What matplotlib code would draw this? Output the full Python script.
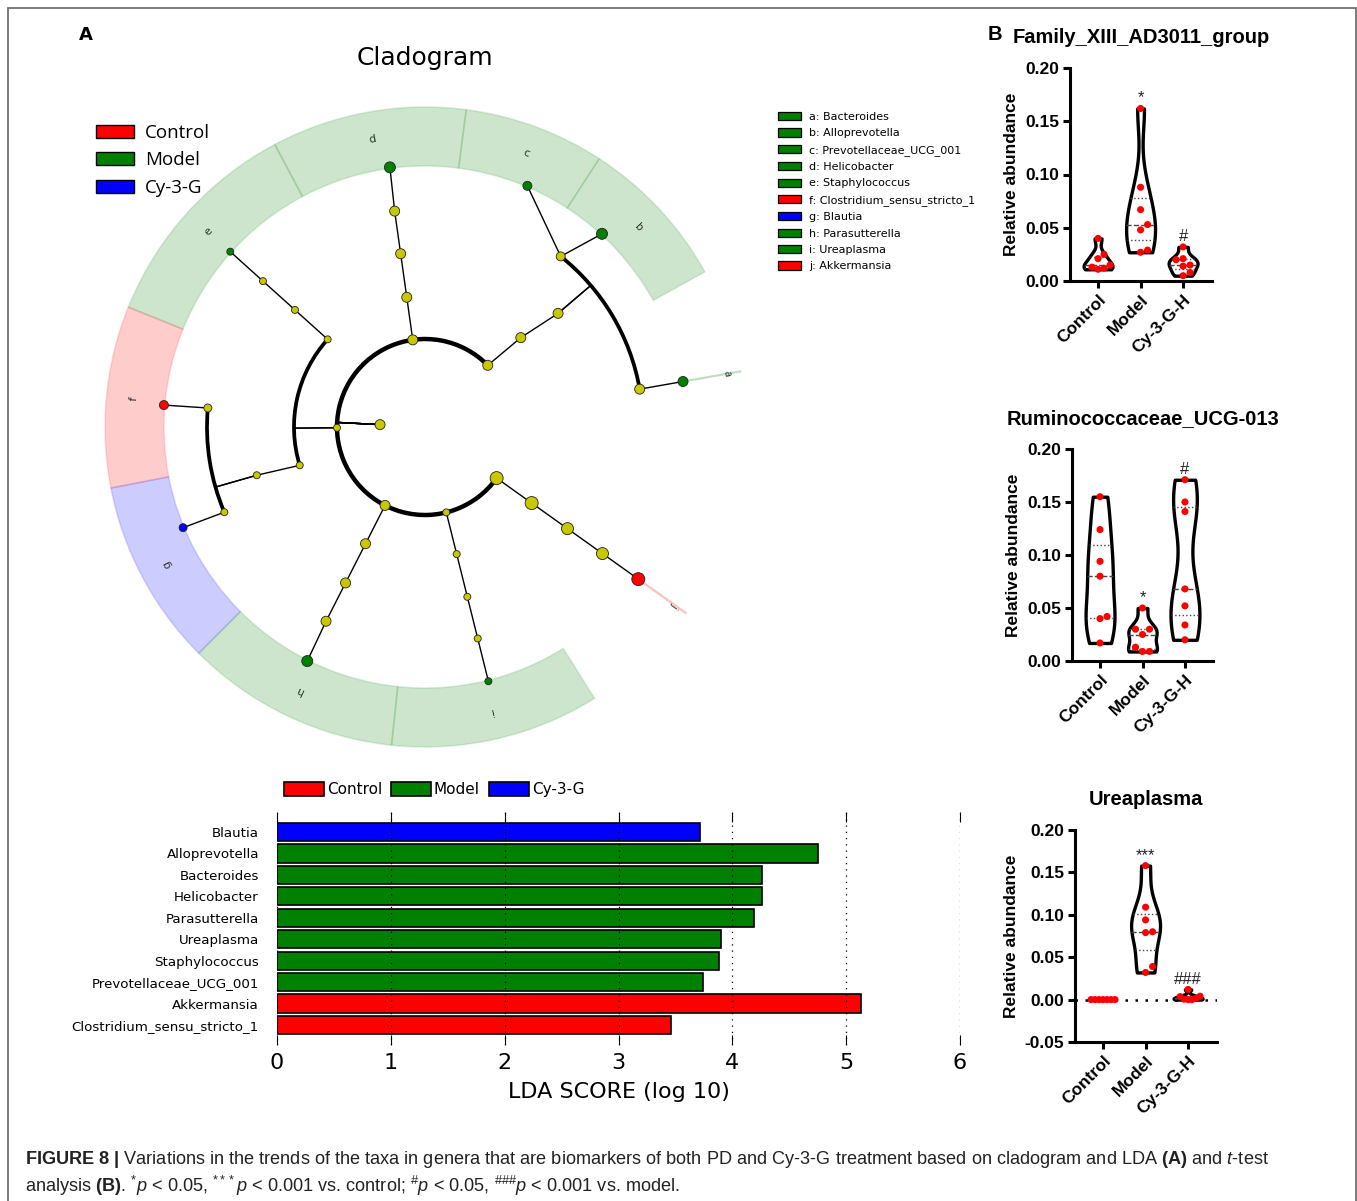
import numpy as np
import matplotlib
matplotlib.use("Agg")
import matplotlib.pyplot as plt
from matplotlib.patches import Arc, Wedge, Patch, Rectangle
from matplotlib.ticker import FormatStrFormatter

plt.rcParams['font.family'] = ['DejaVu Sans']
plt.rcParams['mathtext.fontset'] = 'custom'
plt.rcParams['mathtext.rm'] = 'Liberation Sans'
plt.rcParams['mathtext.it'] = 'Liberation Sans:italic'
plt.rcParams['mathtext.bf'] = 'Liberation Sans:bold'

W, H = 1357, 1201

# ---------------- data ----------------
# cladogram: ring radii per level, nodes (angle in degrees, level, marker radius, colour), parent links
levels = [45, 88, 131, 175, 218, 262]
node_ang = [177, 44.5, 98, 180.5, 243, 284, 324.5,
            43, 40.5, 51.5, 10, 67, 47.5, 10,
            98, 98, 98, 97.7,
            138, 138, 138, 138,
            197, 196, 175, 203, 175.2, 202.6,
            243, 243, 243, 243.3,
            284, 284, 284, 284,
            324.5, 324.5, 324.5, 324.5]
node_lvl = [0, 1, 1, 1, 1, 1, 1,
            2, 3, 4, 4, 5, 5, 5,
            2, 3, 4, 5,
            2, 3, 4, 5,
            2, 3, 4, 4, 5, 5,
            2, 3, 4, 5,
            2, 3, 4, 5,
            2, 3, 4, 5]
node_size = [5, 5, 5, 3.5, 5, 3.5, 6.5,
             5, 5, 4.5, 5, 4.5, 5.5, 5,
             5, 5, 5, 5.5,
             3.5, 3.5, 3.5, 3.5,
             3.5, 3.5, 4, 3.5, 4.5, 4,
             5, 5, 5, 5.5,
             3.5, 3.5, 3.5, 3.5,
             6.5, 6, 6, 6.5]
node_col = ['y'] * 11 + ['g', 'g', 'g'] + ['y'] * 3 + ['g'] + ['y'] * 3 + ['g'] \
    + ['y'] * 4 + ['r', 'b'] + ['y'] * 3 + ['g'] + ['y'] * 3 + ['g'] + ['y'] * 3 + ['r']
node_parent = [-1, 0, 0, 0, 0, 0, 0,
               1, 7, 8, 8, 9, 9, 10,
               2, 14, 15, 16,
               3, 18, 19, 20,
               3, 22, 23, 23, 24, 25,
               4, 28, 29, 30,
               5, 32, 33, 34,
               6, 36, 37, 38]
arc_parents = [0, 3, 8, 23]

# clade shading: letter, start angle, end angle, group
band_letter = ['b', 'c', 'd', 'e', 'f', 'g', 'h', 'i']
band_start = [29, 57, 82.6, 118, 158, 191, 225, 264]
band_end = [57, 82.6, 118, 158, 191, 225, 264, 302]
band_group = ['Model', 'Model', 'Model', 'Model', 'Control', 'Cy-3-G', 'Model', 'Model']
line_letter = ['a', 'j']
line_ang = [10, 324.5]
line_group = ['Model', 'Control']

clade_names = ['a: Bacteroides', 'b: Alloprevotella', 'c: Prevotellaceae_UCG_001', 'd: Helicobacter',
               'e: Staphylococcus', 'f: Clostridium_sensu_stricto_1', 'g: Blautia',
               'h: Parasutterella', 'i: Ureaplasma', 'j: Akkermansia']
clade_groups = ['Model', 'Model', 'Model', 'Model', 'Model', 'Control', 'Cy-3-G', 'Model', 'Model', 'Control']

groups = ['Control', 'Model', 'Cy-3-G']
group_col = {'Control': '#ff0000', 'Model': '#008000', 'Cy-3-G': '#0000ff'}
node_colors = {'y': '#c8c800', 'g': '#008000', 'r': '#ff0000', 'b': '#0000ff'}

# LDA
taxa = ['Blautia', 'Alloprevotella', 'Bacteroides', 'Helicobacter', 'Parasutterella', 'Ureaplasma',
        'Staphylococcus', 'Prevotellaceae_UCG_001', 'Akkermansia', 'Clostridium_sensu_stricto_1']
lda = [3.72, 4.75, 4.26, 4.26, 4.19, 3.90, 3.88, 3.74, 5.13, 3.46]
lda_group = ['Cy-3-G', 'Model', 'Model', 'Model', 'Model', 'Model', 'Model', 'Model', 'Control', 'Control']

# violin panels
vgroups = ['Control', 'Model', 'Cy-3-G-H']
fam_vals = [[0.040, 0.025, 0.021, 0.015, 0.013, 0.012, 0.011],
            [0.162, 0.088, 0.067, 0.053, 0.048, 0.029, 0.027],
            [0.032, 0.021, 0.020, 0.015, 0.014, 0.008, 0.005]]
rum_vals = [[0.155, 0.124, 0.094, 0.080, 0.042, 0.040, 0.017],
            [0.050, 0.030, 0.030, 0.025, 0.013, 0.009, 0.009],
            [0.171, 0.150, 0.141, 0.068, 0.052, 0.034, 0.020]]
ure_vals = [[0.0, 0.0, 0.0, 0.0, 0.0, 0.0, 0.0],
            [0.158, 0.109, 0.094, 0.080, 0.079, 0.039, 0.032],
            [0.012, 0.004, 0.0035, 0.0015, 0.0005, 0.0, 0.0]]
fam_marks = ['', '*', '#']
rum_marks = ['', '*', '#']
ure_marks = ['', '***', '###']


def px_axes(fig, left, top, right, bottom):
    return fig.add_axes([left / W, 1 - bottom / H, (right - left) / W, (bottom - top) / H])


def polar(ang, r):
    a = np.deg2rad(ang)
    return r * np.cos(a), r * np.sin(a)


fig = plt.figure(figsize=(W / 100, H / 100), dpi=100)

# outer frame
fig.add_artist(Rectangle((8 / W, -0.01), 1348 / W, 1 - 8 / H + 0.01, transform=fig.transFigure,
                         fill=False, edgecolor='#666666', lw=1.2))

fig.text(86 / W, 1 - 35 / H, 'A', fontsize=13, fontweight='bold', ha='center', va='center')

# ---------------- cladogram ----------------
cx, cy = 425, 427
ax = px_axes(fig, 60, 80, 800, 780)
ax.set_xlim(60 - cx, 800 - cx)
ax.set_ylim(cy - 780, cy - 80)
ax.set_aspect('equal')
ax.axis('off')
fig.text(425 / W, 1 - 58 / H, 'Cladogram', fontsize=18, ha='center', va='center')

for let, a1, a2, g in zip(band_letter, band_start, band_end, band_group):
    c = group_col[g]
    ax.add_patch(Wedge((0, 0), 320, a1, a2, width=59, facecolor=matplotlib.colors.to_rgba(c, 0.2),
                       edgecolor=matplotlib.colors.to_rgba(c, 0.12), lw=1.2, zorder=1))
    mid = (a1 + a2) / 2
    x, y = polar(mid, 292)
    ax.text(x, y, let, rotation=mid - 90, ha='center', va='center', fontsize=8,
            color='#333333', zorder=2)

for let, a, g in zip(line_letter, line_ang, line_group):
    c = group_col[g]
    x0, y0 = polar(a, levels[5])
    x1, y1 = polar(a, 320)
    ax.plot([x0, x1], [y0, y1], color=matplotlib.colors.to_rgba(c, 0.25), lw=1.6, zorder=1)
    x, y = polar(a, 306)
    ax.text(x, y, let, rotation=a - 90, ha='center', va='center', fontsize=7,
            color='#333333', zorder=2)

for i, p in enumerate(node_parent):
    if p < 0:
        continue
    xc, yc = polar(node_ang[i], levels[node_lvl[i]])
    xp, yp = polar(node_ang[p], levels[node_lvl[p]])
    if p in arc_parents:
        xj, yj = polar(node_ang[p], levels[node_lvl[i]])
        ax.plot([xp, xj], [yp, yj], color='black', lw=1.0, zorder=2)
    else:
        ax.plot([xp, xc], [yp, yc], color='black', lw=1.0, zorder=2)

for p in arc_parents:
    kids = [i for i, q in enumerate(node_parent) if q == p]
    lvl = node_lvl[kids[0]]
    angs = [node_ang[k] for k in kids] + [node_ang[p]]
    r = levels[lvl]
    ax.add_patch(Arc((0, 0), 2 * r, 2 * r, theta1=min(angs), theta2=max(angs),
                     lw=3.2 if p == 0 else 2.7, color='black', zorder=2))

nx, ny = polar(np.array(node_ang), np.array([levels[l] for l in node_lvl]))
ax.scatter(nx, ny, s=(2 * np.array(node_size) * 0.72) ** 2,
           c=[node_colors[c] for c in node_col], edgecolors='#222222', linewidths=0.6, zorder=4)

ax.legend(handles=[Patch(facecolor=group_col[g], edgecolor='black', lw=1.0) for g in groups],
          labels=groups, loc='upper left', bbox_to_anchor=(96 / W, 1 - 124 / H),
          bbox_transform=fig.transFigure, frameon=False,
          prop={'family': 'Open Sans', 'size': 13.5},
          handlelength=2.0, handleheight=0.7, handletextpad=0.6, labelspacing=0.5,
          borderpad=0, borderaxespad=0)

fig.legend(handles=[Patch(facecolor=group_col[g], edgecolor='black', lw=0.9) for g in clade_groups],
           labels=clade_names, loc='upper left', bbox_to_anchor=(778 / W, 1 - 112 / H),
           frameon=False, prop={'family': 'DejaVu Sans', 'size': 8},
           handlelength=2.1, handleheight=0.75, handletextpad=0.7, labelspacing=0.575,
           borderpad=0, borderaxespad=0)

# ---------------- LDA bars ----------------
bx = px_axes(fig, 277, 812, 960, 1045)
ypos = np.arange(len(taxa))
bx.barh(ypos, lda, height=0.85, color=[group_col[g] for g in lda_group],
        edgecolor='black', lw=1.2, zorder=2)
bx.set_xlim(0, 6)
bx.set_ylim(len(taxa) - 0.07, -0.93)
bx.set_yticks(ypos)
bx.set_yticklabels(taxa, fontsize=9.6)
bx.tick_params(axis='y', length=0, pad=13)
bx.set_xticks(range(7))
bx.tick_params(axis='x', labelsize=16, direction='in', length=7, width=0.8, top=True, pad=6)
for s in bx.spines.values():
    s.set_visible(False)
bx.grid(axis='x', ls=(0, (1, 4)), color='black', lw=0.9, zorder=3)
bx.set_axisbelow(False)
bx.set_xlabel('LDA SCORE (log 10)', fontsize=16, labelpad=6)
bx.legend(handles=[Patch(facecolor=group_col[g], edgecolor='black', lw=1.2) for g in groups],
          labels=groups, loc='lower left', bbox_to_anchor=(284 / W, 1 - 797 / H),
          bbox_transform=fig.transFigure, ncol=3, frameon=False, fontsize=11,
          handlelength=2.6, handleheight=1.0, handletextpad=0.2, columnspacing=0.6,
          borderpad=0, borderaxespad=0)


# ---------------- violins ----------------
def swarm(vals, ppu_y, ppu_x, d=7.0, cap=12.0):
    vals = np.asarray(vals)
    order = np.argsort(vals)
    placed = []
    xs = np.zeros(len(vals))
    for i in order:
        y = vals[i] * ppu_y
        for k in [0, 1, -1, 2, -2, 3, -3, 4, -4]:
            x = k * d
            if all((x - px) ** 2 + (y - py) ** 2 >= 0.9 * d * d for py, px in placed):
                break
        placed.append((y, x))
        xs[i] = x
    m = np.abs(xs).max()
    if m > cap:
        xs = xs * cap / m
    return xs / ppu_x


def violin_panel(rect, title, data, marks, ylim, yticks, xlim):
    l, t, r, b = rect
    vax = px_axes(fig, l, t, r, b)
    vax.set_xlim(*xlim)
    vax.set_ylim(*ylim)
    ppu_y = (b - t) / (ylim[1] - ylim[0])
    ppu_x = (r - l) / (xlim[1] - xlim[0])
    for pos, vals in enumerate(data):
        v = np.asarray(vals)
        if v.std() > 0:
            h = 0.5 * v.std(ddof=1)
            ys = np.linspace(v.min(), v.max(), 300)
            dens = np.exp(-0.5 * ((ys[:, None] - v[None, :]) / h) ** 2).sum(1)
            w = dens / dens.max() * 0.34
            vax.fill_betweenx(ys, pos - w, pos + w, facecolor='white', edgecolor='black',
                              lw=2.4, zorder=2)
            q1, med, q3 = np.percentile(v, [25, 50, 75])
            for q, ls in [(q1, ':'), (med, '--'), (q3, ':')]:
                hw = np.interp(q, ys, w)
                vax.plot([pos - hw, pos + hw], [q, q], ls=ls, color='#444444', lw=1.0, zorder=3)
        xo = swarm(v, ppu_y, ppu_x)
        vax.scatter(pos + xo, v, s=26, color='#ff0000', edgecolors='none', zorder=4)
        if marks[pos]:
            vax.text(pos, v.max() + 0.003, marks[pos], ha='center', va='bottom', fontsize=12,
                     family='Liberation Sans', color='#222222')
    if ylim[0] < 0:
        vax.axhline(0, ls=(0, (1, 3)), color='black', lw=1.8, zorder=1)
    for s in ['top', 'right']:
        vax.spines[s].set_visible(False)
    for s in ['left', 'bottom']:
        vax.spines[s].set_linewidth(2.2)
    vax.set_yticks(yticks)
    vax.yaxis.set_major_formatter(FormatStrFormatter('%.2f'))
    vax.set_xticks(range(len(vgroups)))
    vax.set_xticklabels(vgroups, rotation=45, ha='right', rotation_mode='anchor')
    vax.tick_params(width=2.2, length=5, labelsize=12.5, pad=3)
    for lab in vax.get_xticklabels() + vax.get_yticklabels():
        lab.set_fontweight('bold')
        lab.set_family('Liberation Sans')
    vax.set_ylabel('Relative abundance', fontsize=12.5, fontweight='bold', family='Liberation Sans',
                   labelpad=4)
    vax.set_title(title, fontsize=14.5, fontweight='bold', family='Liberation Sans', pad=18)
    return vax


violin_panel((1070, 68, 1212, 281), 'Family_XIII_AD3011_group', fam_vals, fam_marks,
             (0, 0.20), [0, 0.05, 0.10, 0.15, 0.20], (-0.66, 2.68))
fig.text(995 / W, 1 - 35 / H, 'B', fontsize=14.5, fontweight='bold', family='Liberation Sans',
         ha='center', va='center')
violin_panel((1072, 449, 1213, 661), 'Ruminococcaceae_UCG-013', rum_vals, rum_marks,
             (0, 0.20), [0, 0.05, 0.10, 0.15, 0.20], (-0.66, 2.66))
violin_panel((1075, 830, 1217, 1042), 'Ureaplasma', ure_vals, ure_marks,
             (-0.05, 0.20), [-0.05, 0, 0.05, 0.10, 0.15, 0.20], (-0.66, 2.68))

# ---------------- caption ----------------
cap1 = (r"$\mathbf{FIGURE\ 8\ |}$ Variations in the trends of the taxa in genera that are biomarkers "
        r"of both PD and Cy-3-G treatment based on cladogram and LDA $\mathbf{(A)}$ and $\mathit{t}$-test")
cap2 = (r"analysis $\mathbf{(B)}$. ${}^{*}\mathit{p}$ < 0.05, ${}^{***}\mathit{p}$ < 0.001 vs. control; "
        r"${}^{\#}\mathit{p}$ < 0.05, ${}^{\#\#\#}\mathit{p}$ < 0.001 vs. model.")
fig.text(25 / W, 1 - 1160 / H, cap1, fontsize=13.1, family='Liberation Sans', color='#222222',
         ha='left', va='center')
fig.text(25 / W, 1 - 1186 / H, cap2, fontsize=13.1, family='Liberation Sans', color='#222222',
         ha='left', va='center')

fig.savefig('out.png', dpi=100)
